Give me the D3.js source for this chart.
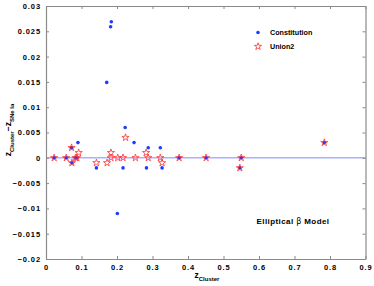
<!DOCTYPE html>
<html>
<head>
<meta charset="utf-8">
<script src="https://d3js.org/d3.v7.min.js"></script>
<style>
  body { margin: 0; background: #fff; }
  text { font-family: "Liberation Sans", Arial, sans-serif; font-weight: bold; }
</style>
</head>
<body>
<script>
let width = 374,
    height = 286;

// Constitution sample (blue dots)
let constZ = [0.023, 0.057, 0.072, 0.073, 0.083, 0.087, 0.090, 0.142, 0.171, 0.182, 0.184, 0.201, 0.217, 0.223, 0.248, 0.283, 0.288, 0.322, 0.327, 0.375, 0.451, 0.546, 0.550, 0.784];
let constD = [0, 0, 0.002, -0.001, 0, 0, 0.003, -0.002, 0.0149, 0.0259, 0.0269, -0.011, -0.002, 0.006, 0.003, -0.002, 0.002, 0.002, -0.002, 0, 0, -0.002, 0, 0.003];

// Union2 sample (red stars)
let unionZ = [0.023, 0.057, 0.072, 0.073, 0.083, 0.087, 0.092, 0.142, 0.172, 0.183, 0.183, 0.202, 0.217, 0.224, 0.252, 0.282, 0.288, 0.322, 0.327, 0.375, 0.451, 0.546, 0.550, 0.784];
let unionD = [0, 0, 0.002, -0.001, 0, 0, 0.001, -0.001, -0.001, 0.001, 0, 0, 0, 0.004, 0, 0.001, 0, 0, -0.001, 0, 0, -0.002, 0, 0.003];

let xTicks = [0, 0.1, 0.2, 0.3, 0.4, 0.5, 0.6, 0.7, 0.8, 0.9];
let yTicks = [-0.02, -0.015, -0.01, -0.005, 0, 0.005, 0.01, 0.015, 0.02, 0.025, 0.03];

let mLeft = 46, mRight = 365.5, mTop = 6, mBottom = 259;

let x = d3.scaleLinear().domain([0, 0.9]).range([mLeft, mRight]);
let y = d3.scaleLinear().domain([-0.02, 0.03]).range([mBottom, mTop]);

let svg = d3.select("body").append("svg")
    .attr("width", width)
    .attr("height", height);

let fmt = d => d === 0 ? "0" : String(d).replace("-", "\u2212");

// zero line
svg.append("line")
    .attr("x1", x(0)).attr("x2", x(0.9))
    .attr("y1", y(0)).attr("y2", y(0))
    .attr("stroke", "#a9b0ff")
    .attr("stroke-width", 1.4)

// axes, ticks pointing inward on all sides
let axisColor = "#8a8a8a";
let gx = svg.append("g").attr("transform", `translate(0,${mBottom})`)
    .call(d3.axisBottom(x).tickValues(xTicks).tickSizeInner(-3).tickSizeOuter(0).tickFormat(fmt).tickPadding(6));
let gxt = svg.append("g").attr("transform", `translate(0,${mTop})`)
    .call(d3.axisTop(x).tickValues(xTicks).tickSizeInner(-3).tickSizeOuter(0).tickFormat(""));
let gy = svg.append("g").attr("transform", `translate(${mLeft},0)`)
    .call(d3.axisLeft(y).tickValues(yTicks).tickSizeInner(-3).tickSizeOuter(0).tickFormat(fmt).tickPadding(5));
let gyr = svg.append("g").attr("transform", `translate(${mRight},0)`)
    .call(d3.axisRight(y).tickValues(yTicks).tickSizeInner(-3).tickSizeOuter(0).tickFormat(""));

[gx, gxt, gy, gyr].forEach(g => {
    g.select(".domain").attr("stroke", axisColor).attr("stroke-width", 1.2)
    g.selectAll(".tick line").attr("stroke", axisColor)
    g.selectAll("text")
        .attr("fill", "#000")
        .style("font-size", "7.5px")
        .style("letter-spacing", "0.9px")
})

// blue dots
svg.selectAll(".dot")
    .data(constZ.map((z, i) => ({z: z, d: constD[i]})))
    .enter().append("circle")
    .attr("class", "dot")
    .attr("cx", d => x(d.z))
    .attr("cy", d => y(d.d))
    .attr("r", 1.8)
    .attr("fill", "#1f3bff")

// red stars
let star = d3.symbol().type(d3.symbolStar).size(16);
svg.selectAll(".star")
    .data(unionZ.map((z, i) => ({z: z, d: unionD[i]})))
    .enter().append("path")
    .attr("class", "star")
    .attr("d", star)
    .attr("transform", d => `translate(${x(d.z)},${y(d.d)})`)
    .attr("fill", "none")
    .attr("stroke", "#ff3030")
    .attr("stroke-width", 0.8)

// legend
svg.append("circle").attr("cx", 258).attr("cy", 32.5).attr("r", 1.8).attr("fill", "#1f3bff")
svg.append("path").attr("d", star).attr("transform", "translate(258,46.5)")
    .attr("fill", "none").attr("stroke", "#ff3030").attr("stroke-width", 0.8)
svg.append("text").attr("x", 270).attr("y", 35).text("Constitution")
    .style("font-size", "7.2px")
svg.append("text").attr("x", 270).attr("y", 49).text("Union2")
    .style("font-size", "7.2px")

// annotation
let ann = svg.append("text").attr("x", 293).attr("y", 224).attr("text-anchor", "middle")
    .style("font-size", "8px").style("letter-spacing", "0.4px")
ann.append("tspan").text("Elliptical ")
ann.append("tspan").text("\u03b2").style("font-weight", "normal").style("font-family", "DejaVu Sans")
ann.append("tspan").text(" Model")

// x label
let xl = svg.append("text").attr("x", 207).attr("y", 278).attr("text-anchor", "middle")
    .style("font-size", "8.5px")
xl.append("tspan").text("z")
xl.append("tspan").text("Cluster").attr("dy", 2.5).style("font-size", "6px")

// y label
let yl = svg.append("text").attr("transform", "translate(11,130) rotate(-90)").attr("text-anchor", "middle")
    .style("font-size", "8.5px")
yl.append("tspan").text("z")
yl.append("tspan").text("Cluster").attr("dy", 2.5).style("font-size", "6px")
yl.append("tspan").text("\u2212z").attr("dy", -2.5)
yl.append("tspan").text("SNe Ia").attr("dy", 2.5).style("font-size", "6px")
</script>
</body>
</html>
